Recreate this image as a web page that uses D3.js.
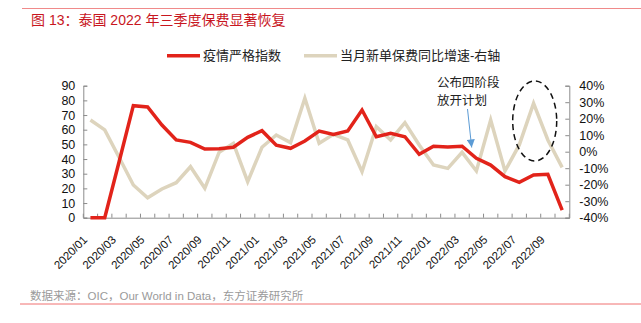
<!DOCTYPE html>
<html><head><meta charset="utf-8">
<script src="https://cdn.jsdelivr.net/npm/d3@7"></script>
<style>
body{margin:0;background:#fff;}
svg{display:block;}
text{font-family:"Liberation Sans",Arial,"Noto Sans CJK SC",sans-serif;}
</style></head><body>
<script>
const months = ["2020/01","2020/02","2020/03","2020/04","2020/05","2020/06","2020/07","2020/08","2020/09","2020/10","2020/11","2020/12",
"2021/01","2021/02","2021/03","2021/04","2021/05","2021/06","2021/07","2021/08","2021/09","2021/10","2021/11","2021/12",
"2022/01","2022/02","2022/03","2022/04","2022/05","2022/06","2022/07","2022/08","2022/09","2022/10"];
const stringency = [0,0,38,76.4,75.5,63.2,53,51.4,46.8,47,48,54.8,59.3,49.4,47.3,52.3,59.1,56.8,59.1,73.4,55.2,57.5,55.2,43.2,48.7,48.2,48.7,40.5,35.9,28,24.1,29.1,29.6,5.2];
const premiumYoY = [19.2,13.2,-3.4,-20.2,-27.9,-22.6,-18.8,-9.1,-22.2,-0.4,5.1,-18.2,2.7,10.1,5.5,32.4,5.1,10.5,7.1,-12.1,15.2,7.1,17.6,4.1,-8.1,-10.1,-0.4,-11.7,19.2,-11.7,4.1,29.3,7.1,-9.5];
const leftTicks = [0,10,20,30,40,50,60,70,80,90];
const rightTicks = [-40,-30,-20,-10,0,10,20,30,40];
const seriesNames = ["疫情严格指数","当月新单保费同比增速-右轴"];
const titleText = "图 13：泰国 2022 年三季度保费显著恢复";
const sourceText = "数据来源：OIC，Our World in Data，东方证券研究所";
const annotation = ["公布四阶段","放开计划"];

const W=641,H=323;
const svg=d3.select("body").append("svg").attr("width",W).attr("height",H);
const L=83.3,R=569.3,T=85.7,B=217.7;
const x=d3.scaleBand().domain(months).range([L,R]);
const yL=d3.scaleLinear().domain([0,90]).range([B,T]);
const yR=d3.scaleLinear().domain([-40,40]).range([B,T]);
const red="#e2231a", beige="#ddd4bd", axisC="#8c8c8c";

// title & rules
svg.append("line").attr("x1",22).attr("x2",641).attr("y1",8.5).attr("y2",8.5).attr("stroke","#f08a8a").attr("stroke-width",1);
svg.append("text").attr("x",31).attr("y",25).attr("fill","#c8161e").attr("font-size",14).attr("font-family","'Noto Sans CJK SC',sans-serif").text(titleText);
svg.append("line").attr("x1",20).attr("x2",641).attr("y1",304).attr("y2",304).attr("stroke","#f07070").attr("stroke-width",1);
svg.append("text").attr("x",30).attr("y",300).attr("fill","#9a9a9a").attr("font-size",11.5).text(sourceText);

// legend
const lg=[{x:167,c:red,t:seriesNames[0]},{x:304,c:beige,t:seriesNames[1]}];
lg.forEach(d=>{
  svg.append("line").attr("x1",d.x).attr("x2",d.x+33).attr("y1",55.7).attr("y2",55.7).attr("stroke",d.c).attr("stroke-width",3.5);
  svg.append("text").attr("x",d.x+36).attr("y",55.7).attr("dy","0.35em").attr("font-size",13).attr("fill","#222").text(d.t);
});

// axes
const gL=svg.append("g").attr("transform",`translate(${L},0)`).call(d3.axisLeft(yL).tickValues(leftTicks).tickSize(-4).tickPadding(8));
const gR=svg.append("g").attr("transform",`translate(${R},0)`).call(d3.axisRight(yR).tickValues(rightTicks).tickSize(-4).tickPadding(10).tickFormat(d=>d+"%"));
const gB=svg.append("g").attr("transform",`translate(0,${B})`).call(d3.axisBottom(x).tickValues([]).tickSize(0));
svg.append("g").selectAll("line").data(d3.range(months.length+1)).join("line")
  .attr("x1",i=>L+i*x.step()).attr("x2",i=>L+i*x.step()).attr("y1",B).attr("y2",B-4).attr("stroke",axisC);
[gL,gR,gB].forEach(g=>{g.selectAll("path").attr("stroke",axisC);g.selectAll("line").attr("stroke",axisC);
  g.selectAll("text").attr("font-size",12.5).attr("fill","#111").attr("font-family","'Liberation Sans',Arial,sans-serif");});
gR.selectAll("text").attr("text-anchor","start");
// x labels
svg.append("g").selectAll("text").data(months.filter((m,i)=>i%2===0)).join("text")
  .attr("transform",d=>`translate(${x(d)+x.bandwidth()/2-8},${B+17}) rotate(-45)`)
  .attr("text-anchor","end").attr("dy","0.7em").attr("font-size",11.5).attr("fill","#111").text(d=>d);

// lines
const cx=d=>x(d)+x.bandwidth()/2;
svg.append("path").datum(premiumYoY).attr("fill","none").attr("stroke",beige).attr("stroke-width",3.5).attr("stroke-linejoin","miter")
  .attr("d",d3.line().x((d,i)=>cx(months[i])).y(d=>yR(d)));
svg.append("path").datum(stringency).attr("fill","none").attr("stroke",red).attr("stroke-width",3.5).attr("stroke-linejoin","miter")
  .attr("d",d3.line().x((d,i)=>cx(months[i])).y(d=>yL(d)));

// annotation
svg.append("text").attr("x",437).attr("y",82.7).attr("dy","0.35em").attr("font-size",12.5).attr("fill","#222").text(annotation[0]);
svg.append("text").attr("x",437).attr("y",100.7).attr("dy","0.35em").attr("font-size",12.5).attr("fill","#222").text(annotation[1]);
const defs=svg.append("defs");
defs.append("marker").attr("id","ah").attr("viewBox","0 0 10 10").attr("refX",10).attr("refY",5).attr("markerUnits","userSpaceOnUse").attr("markerWidth",9).attr("markerHeight",8).attr("orient","auto")
  .append("path").attr("d","M0,0L10,5L0,10z").attr("fill","#5b9bd5");
svg.append("line").attr("x1",467.5).attr("y1",109).attr("x2",471.7).attr("y2",147.5).attr("stroke","#5b9bd5").attr("stroke-width",1).attr("marker-end","url(#ah)");
svg.append("ellipse").attr("cx",534.7).attr("cy",121).attr("rx",22).attr("ry",40).attr("fill","none").attr("stroke","#111").attr("stroke-width",1.5).attr("stroke-dasharray","6,4");
</script></body></html>
